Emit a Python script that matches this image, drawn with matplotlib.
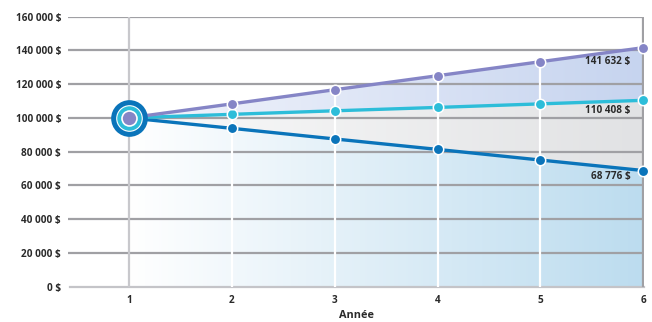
import numpy as np
import matplotlib
matplotlib.use("Agg")
import matplotlib.pyplot as plt
from matplotlib.colors import to_rgba

years = [1, 2, 3, 4, 5, 6]
high = [100000, 108300, 116700, 125000, 133300, 141632]
mid = [100000, 102100, 104200, 106200, 108300, 110408]
low = [100000, 93800, 87500, 81300, 75000, 68776]
end_labels = ["141 632 $", "110 408 $", "68 776 $"]
yticks = [0, 20000, 40000, 60000, 80000, 100000, 120000, 140000, 160000]
ytick_labels = ["0 $", "20 000 $", "40 000 $", "60 000 $", "80 000 $",
                "100 000 $", "120 000 $", "140 000 $", "160 000 $"]
xlabel = "Année"

C_HIGH = "#8585c6"
C_MID = "#2dbdd9"
C_LOW = "#0a74ba"
GRID = "#a0a0a4"
TXT = "#2a2a2a"

plt.rcParams['font.family'] = ['Open Sans', 'DejaVu Sans']

fig = plt.figure(figsize=(6.52, 3.22), dpi=100)
ax = fig.add_axes([68/652, 1-286.5/322, (644.5-68)/652, (286.5-16.7)/322])
ax.set_xlim(0.406, 6.013)
ax.set_ylim(0, 160000)

x = np.array(years, dtype=float)


def grad_band(y1, y2, c0, c1, z):
    poly = ax.fill_between(x, y1, y2, facecolor="none", edgecolor="none", zorder=z)
    n = 256
    a = np.array(to_rgba(c0))
    b = np.array(to_rgba(c1))
    t = np.linspace(0, 1, n)[None, :, None]
    img = a[None, None, :] * (1 - t) + b[None, None, :] * t
    im = ax.imshow(img, extent=[x[0], x[-1], 0, 160000], aspect="auto",
                   origin="lower", zorder=z, interpolation="bilinear")
    path = poly.get_paths()[0]
    im.set_clip_path(path, transform=ax.transData)


grad_band(np.zeros_like(x), np.array(low, float), "#ffffff", "#bcdcef", 1)
grad_band(np.array(low, float), np.array(mid, float), "#fafafa", "#e1e2e4", 1)
grad_band(np.array(mid, float), np.array(high, float), "#f3f5fc", "#c6d4ef", 1)
ax.set_xlim(0.406, 6.013)
ax.set_ylim(0, 160000)

# horizontal gridlines
for yv in yticks[1:]:
    ax.axhline(yv, color=GRID, lw=1.6, zorder=2)
ax.plot([0.43, 6.013], [0, 0], color="#c4c4c8", lw=1.6, zorder=2, clip_on=False)

# vertical lines
ax.axvline(1, color="#c8c8cc", lw=1.6, zorder=2)
ax.axvline(6.0, color=GRID, lw=1.6, zorder=2)
for xi, hv in zip(years[1:-1], high[1:-1]):
    ax.plot([xi, xi], [0, hv], color="white", lw=1.6, zorder=3)

# series lines
for ys, c in [(low, C_LOW), (mid, C_MID), (high, C_HIGH)]:
    ax.plot(years, ys, color=c, lw=2.4, zorder=4, solid_capstyle="round")
    ax.plot(years[1:], ys[1:], 'o', color=c, ms=7.5, mec="white", mew=1.1,
            zorder=5, clip_on=False)

# start marker (concentric)
ax.plot(years[0], high[0], 'o', ms=26.4, color=C_LOW, mew=0, zorder=6)
ax.plot(years[0], high[0], 'o', ms=19.2, color="white", mew=0, zorder=7)
ax.plot(years[0], high[0], 'o', ms=17.6, color=C_MID, mew=0, zorder=8)
ax.plot(years[0], high[0], 'o', ms=12.0, color="white", mew=0, zorder=9)
ax.plot(years[0], high[0], 'o', ms=9.6, color=C_HIGH, mew=0, zorder=10)

# end labels
label_y = [133400, 104150, 65160]
for lab, ly in zip(end_labels, label_y):
    ax.text(5.875, ly, lab, ha="right", va="center", fontsize=7.2,
            fontweight="bold", color=TXT, zorder=11)

for s in ax.spines.values():
    s.set_visible(False)
ax.set_yticks(yticks)
ax.set_yticklabels(ytick_labels)
ax.set_xticks(years)
ax.set_xticklabels([str(v) for v in years])
ax.tick_params(axis="both", length=0, labelsize=7.2, labelcolor=TXT)
ax.tick_params(axis="y", pad=5)
ax.tick_params(axis="x", pad=6)
for lbl in ax.get_xticklabels() + ax.get_yticklabels():
    lbl.set_fontweight("bold")
ax.set_xlabel(xlabel, fontsize=7.8, fontweight="bold", color=TXT, labelpad=3)

fig.savefig("out.png", dpi=100)
